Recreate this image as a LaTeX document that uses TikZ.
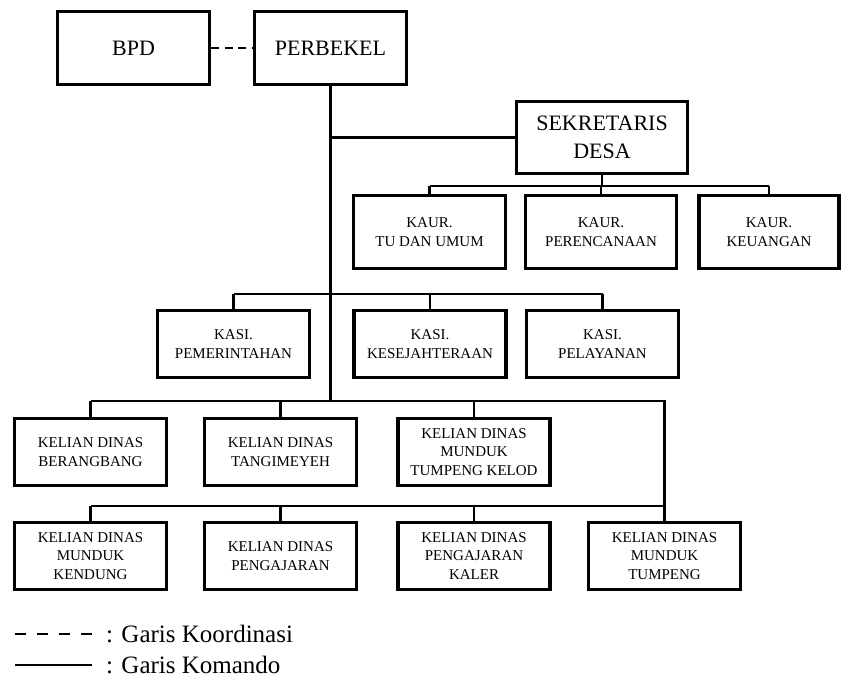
\documentclass[tikz,border=0pt]{standalone}
\usepackage{fontspec}
\setmainfont{Liberation Serif}
\begin{document}
\begin{tikzpicture}[x=1pt,y=-1pt,
  jabatan/.style={draw,line width=3.1pt,minimum width=152pt,minimum height=67pt,align=center,inner sep=2pt,font=\fontsize{15}{18.5}\selectfont},
  pimpinan/.style={jabatan,minimum height=73pt,font=\fontsize{22}{28}\selectfont},
  garis/.style={line width=2.9pt},
  legenda/.style={anchor=west,inner sep=0pt,font=\fontsize{25}{30}\selectfont}]
\useasboundingbox (0,0) rectangle (842,682);

\node[pimpinan] (bpd) at (133.5,48) {BPD};
\node[pimpinan] (perbekel) at (330.5,48) {PERBEKEL};
\node[pimpinan,minimum width=171pt,minimum height=72pt] (sekdes) at (602,137.5) {SEKRETARIS\\DESA};

\node[jabatan,minimum height=73pt] (kaurtu) at (429.5,232) {KAUR.\\TU DAN UMUM};
\node[jabatan,minimum height=73pt,minimum width=151pt] (kaurren) at (601,232) {KAUR.\\PERENCANAAN};
\node[jabatan,minimum height=73pt,minimum width=140pt] (kaurkeu) at (769,232) {KAUR.\\KEUANGAN};

\node[jabatan] (kasipem) at (233.5,344) {KASI.\\PEMERINTAHAN};
\node[jabatan] (kasikes) at (430,344) {KASI.\\KESEJAHTERAAN};
\node[jabatan] (kasipel) at (602.5,344) {KASI.\\PELAYANAN};

\node[jabatan] (kelberang) at (90.5,452) {KELIAN DINAS\\BERANGBANG};
\node[jabatan] (keltangi) at (280.5,452) {KELIAN DINAS\\TANGIMEYEH};
\node[jabatan] (kelkelod) at (474,452) {KELIAN DINAS\\MUNDUK\\TUMPENG KELOD};

\node[jabatan] (kelkendung) at (90.5,556) {KELIAN DINAS\\MUNDUK\\KENDUNG};
\node[jabatan] (kelajar) at (280.5,556) {KELIAN DINAS\\PENGAJARAN};
\node[jabatan] (kelkaler) at (474,556) {KELIAN DINAS\\PENGAJARAN\\KALER};
\node[jabatan] (keltumpeng) at (664.5,556) {KELIAN DINAS\\MUNDUK\\TUMPENG};

\coordinate (kaurbus) at (0,186);
\coordinate (kasibus) at (0,294);
\coordinate (kelbus) at (0,401);
\coordinate (kelbusb) at (0,506);

\draw[garis,dash pattern=on 8pt off 5.5pt] (bpd.east) -- (perbekel.west);
\draw[garis] (perbekel.south) -- (perbekel.south |- kelbus);
\draw[garis] (perbekel.south |- sekdes.west) -- (sekdes.west);

\draw[garis] (sekdes.south) -- (sekdes.south |- kaurbus);
\draw[garis] (kaurtu.north |- kaurbus) -- (kaurkeu.north |- kaurbus);
\foreach \n in {kaurtu,kaurren,kaurkeu}
  \draw[garis] (\n.north |- kaurbus) -- (\n.north);

\draw[garis] (kasipem.north |- kasibus) -- (kasipel.north |- kasibus);
\foreach \n in {kasipem,kasikes,kasipel}
  \draw[garis] (\n.north |- kasibus) -- (\n.north);

\draw[garis] (kelberang.north |- kelbus) -- (keltumpeng.north |- kelbus)
  -- (keltumpeng.north |- kelbusb) -- (kelkendung.north |- kelbusb);
\foreach \n in {kelberang,keltangi,kelkelod}
  \draw[garis] (\n.north |- kelbus) -- (\n.north);
\foreach \n in {kelkendung,kelajar,kelkaler,keltumpeng}
  \draw[garis] (\n.north |- kelbusb) -- (\n.north);

\coordinate (kooa) at (15,634);
\coordinate (koob) at (92,634);
\coordinate (koma) at (15,665);
\coordinate (komb) at (92,665);
\draw[garis,dash pattern=on 11pt off 11pt] (kooa) -- (koob);
\draw[garis] (koma) -- (komb);
\node[legenda] (ketkoor) at (106,634) {: Garis Koordinasi};
\node[legenda] (ketkom) at (106,665) {: Garis Komando};
\end{tikzpicture}
\end{document}
